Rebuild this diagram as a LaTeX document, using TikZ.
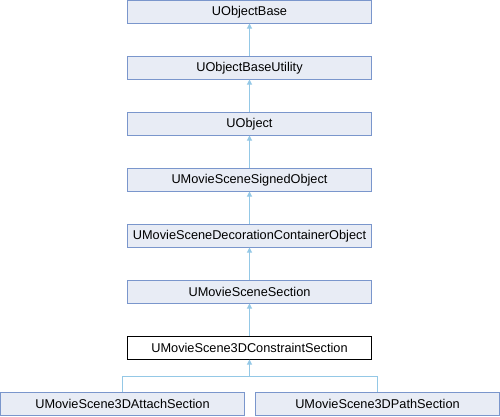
\documentclass[tikz,border=0pt]{standalone}
\usepackage{fontspec}
\setmainfont{Liberation Sans}
\usetikzlibrary{arrows.meta}
\definecolor{boxfill}{RGB}{232,236,245}
\definecolor{boxdraw}{RGB}{122,150,204}
\definecolor{edgecol}{RGB}{148,200,230}
\begin{document}
\begin{tikzpicture}[x=1pt,y=-1pt,
  cls/.style={draw=boxdraw,fill=boxfill,line width=1pt,minimum width=244pt,minimum height=22.5pt,inner sep=0pt,font=\fontsize{12.75}{14}\selectfont,text=black},
  cur/.style={cls,draw=black,fill=white},
  inh/.style={draw=edgecol,line width=1pt,-{Triangle[length=5pt,width=5pt,fill=edgecol]}}]
\useasboundingbox (0,0) rectangle (500,416);
\node[cls] (a) at (249.5,11.75) {UObjectBase};
\node[cls] (b) at (249.5,67.75) {UObjectBaseUtility};
\node[cls] (c) at (249.5,123.75) {UObject};
\node[cls] (d) at (249.5,179.75) {UMovieSceneSignedObject};
\node[cls] (e) at (249.5,235.75) {UMovieSceneDecorationContainerObject};
\node[cls] (f) at (249.5,291.75) {UMovieSceneSection};
\node[cur] (g) at (249.5,347.75) {UMovieScene3DConstraintSection};
\node[cls] (h) at (122.5,403.75) {UMovieScene3DAttachSection};
\node[cls] (i) at (377.5,403.75) {UMovieScene3DPathSection};
\draw[inh] (b) -- (a);
\draw[inh] (c) -- (b);
\draw[inh] (d) -- (c);
\draw[inh] (e) -- (d);
\draw[inh] (f) -- (e);
\draw[inh] (g) -- (f);
\coordinate (j) at (249.5,376);
\draw[draw=edgecol,line width=1pt] (h.north) |- (j) -| (i.north);
\draw[inh] (j) -- (g.south);
\end{tikzpicture}
\end{document}
